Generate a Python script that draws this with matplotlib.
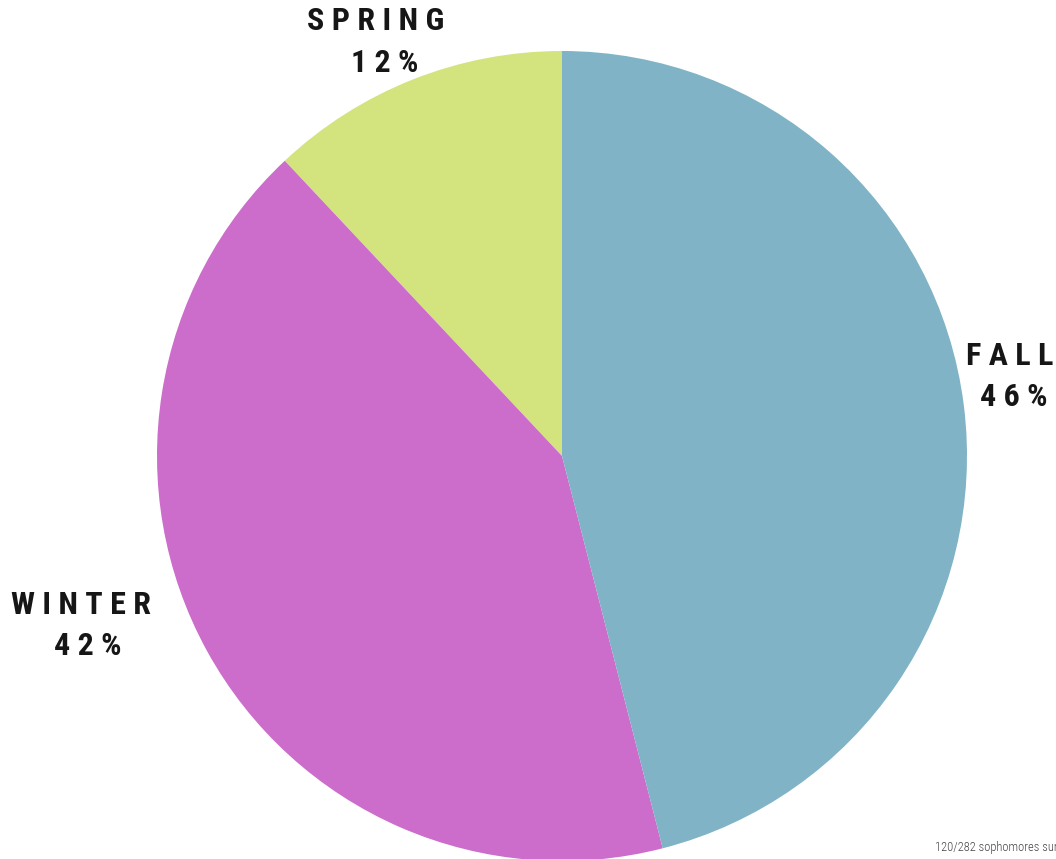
import matplotlib.pyplot as plt

# survey: preferred season
seasons = ["SPRING", "WINTER", "FALL"]
shares = [12, 42, 46]
colors = ["#d3e47f", "#cc6ccb", "#80b3c5"]
footnote = "120/282 sophomores surveyed"

W, H = 1056, 859
fig = plt.figure(figsize=(W / 100, H / 100), dpi=100)
ax = fig.add_axes([0, 0, 1, 1])

# centre and radius in pixel units (y measured from the bottom)
ax.pie(shares, colors=colors, startangle=90, counterclock=True,
       center=(562, H - 456), radius=405, frame=True,
       wedgeprops=dict(linewidth=0))
ax.set_xlim(0, W)
ax.set_ylim(0, H)
ax.set_aspect("equal")
ax.axis("off")

family = ["Roboto Condensed", "DejaVu Sans"]
font = dict(family=family, fontweight="bold", fontsize=23,
            color="#161616", ha="center", va="center")


def spaced(s):
    return " ".join(s)


label_pos = {"SPRING": (376, 21, 385, 63),
             "FALL": (1010, 356, 1014, 397),
             "WINTER": (81, 605, 88, 646)}
for name, pct in zip(seasons, shares):
    x1, y1, x2, y2 = label_pos[name]
    ax.text(x1, H - y1, spaced(name), **font)
    ax.text(x2, H - y2, spaced(str(pct)) + " %", **font)

# footnote runs off the right edge of the page
ax.text(935, H - 848, footnote, family=family, fontweight="light",
        fontsize=9, color="#444444", ha="left", va="center")

fig.savefig("out.png", dpi=100)
